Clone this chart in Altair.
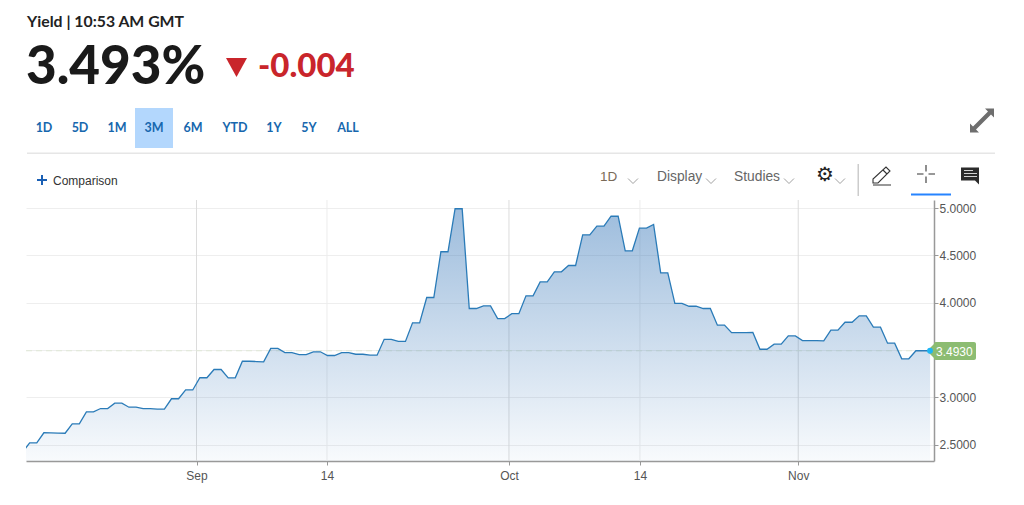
import altair as alt
import pandas as pd

# Data (one entry per chart slot, oldest first)
yields = [2.422,
 2.521,2.521, 2.627,2.625,2.624,2.622, 2.722,2.722, 2.848,2.848, 2.883,2.883, 2.939,2.939,
 2.897,2.897, 2.883,2.883, 2.876,2.876, 2.986,2.986, 3.079,3.079, 3.208,3.208, 3.295,3.295,
 3.207,3.207, 3.383,3.382,3.379,3.376, 3.517,3.517, 3.474,3.474, 3.453,3.453, 3.482,3.482,
 3.443,3.443, 3.474,3.474, 3.456,3.456, 3.446,3.446, 3.614,3.614, 3.591,3.591, 3.788,3.788,
 4.055,4.055, 4.538,4.538, 4.992,4.992, 3.939,3.939, 3.967,3.967, 3.833,3.833, 3.884,3.884,
 4.073,4.073, 4.220,4.220, 4.326,4.326, 4.393,4.393, 4.717,4.717, 4.808,4.808, 4.913,4.913,
 4.548,4.548, 4.787,4.787, 4.826, 4.316,4.316, 3.994,3.994, 3.963,3.963, 3.939,3.939,
 3.763,3.763, 3.684,3.684,3.684,3.686, 3.509,3.509, 3.562,3.562, 3.650,3.650,
 3.600,3.600,3.600,3.597, 3.710,3.710, 3.794,3.794, 3.862,3.862, 3.742,3.742, 3.573,3.573,
 3.408,3.408, 3.493,3.493,3.493]
last_value = 3.493
y_floor = 2.329
y_ceil = 5.0845
month_ticks = [24.53, 68.60, 109.40]
month_labels = ["Sep", "Oct", "Nov"]
day_ticks = [42.93, 87.07]
day_labels = ["14", "14"]
y_ticks = [2.5, 3.0, 3.5, 4.0, 4.5, 5.0]
ranges = ["1D", "5D", "1M", "3M", "6M", "YTD", "1Y", "5Y", "ALL"]
range_centers = [44, 80, 117, 154, 193, 235, 274, 309, 348]

W, H = 908, 261
X0, Y0 = 26, 200           # plot origin on the page
one = alt.Data(values=[{"k": 1}])
SANS = "Liberation Sans"
HEAD = "Lato"

df = pd.DataFrame({"slot": range(len(yields)), "yield": yields, "base": [y_floor] * len(yields)})
xs = alt.Scale(domain=[0.48, 128.55], nice=False, zero=False)
ys = alt.Scale(domain=[y_floor, y_ceil], nice=False, zero=False)

def txt(s, x, y, size=12, color="#333", weight="normal", font=SANS, align="left"):
    return alt.Chart(one).mark_text(text=s, fontSize=size, color=color, fontWeight=weight,
                                    font=font, align=align, baseline="middle").encode(
        x=alt.value(x - X0), y=alt.value(y - Y0))

def icon(path, x, y, fill=None, stroke=None, sw=1.0):
    kw = dict(shape=path, size=4, opacity=1, strokeWidth=sw)
    if fill:
        kw.update(filled=True, fill=fill, stroke=stroke or fill)
    else:
        kw.update(filled=False, stroke=stroke)
    return alt.Chart(one).mark_point(**kw).encode(x=alt.value(x - X0), y=alt.value(y - Y0))

def box(x, x2, y, y2, color, **kw):
    return alt.Chart(one).mark_rect(color=color, **kw).encode(
        x=alt.value(x - X0), x2=alt.value(x2 - X0), y=alt.value(y - Y0), y2=alt.value(y2 - Y0))

all_ticks = month_ticks + day_ticks
all_labels = month_labels + day_labels
expr = "".join(f"datum.value=={v}?'{l}':" for v, l in zip(all_ticks, all_labels)) + "''"

xaxis = alt.Axis(values=all_ticks, labelExpr=expr, grid=False, domainColor="#999",
                 tickColor="#999", tickSize=4, labelFont=SANS, labelFontSize=12,
                 labelColor="#555", labelPadding=5, labelFlush=False, domainWidth=1.5, title=None)
# The last-value tag sits where the 3.5000 label would be, so that label stays empty.
yaxis = alt.Axis(orient="right", values=y_ticks, grid=True, gridColor="#eeeeee",
                 labelExpr=f"datum.value=={y_ticks[2]}?'':format(datum.value,'.4f')",
                 domainColor="#999", tickColor="#999", tickSize=4, labelFont=SANS,
                 labelFontSize=12, labelColor="#555", labelPadding=1, domainWidth=1.5, title=None)

def X(f):
    return alt.X(f, scale=xs, axis=xaxis)

def Y(f):
    return alt.Y(f, scale=ys, axis=yaxis)

months = alt.Chart(pd.DataFrame({"t": month_ticks})).mark_rule(color="#dcdcdc", strokeWidth=1).encode(x=X("t:Q"))
days = alt.Chart(pd.DataFrame({"t": day_ticks})).mark_rule(color="#ececec", strokeWidth=1).encode(x=X("t:Q"))
dash = alt.Chart(pd.DataFrame({"v": [last_value]})).mark_rule(
    color="#dfe8d6", strokeWidth=1.2, strokeDash=[6, 4]).encode(
    x=alt.value(0), x2=alt.value(904), y=Y("v:Q"))

area = alt.Chart(df).mark_area(
    clip=True,
    color=alt.Gradient(gradient="linear", x1=0, y1=0, x2=0, y2=1,
                       stops=[alt.GradientStop(color="rgba(42,110,180,0.46)", offset=0),
                              alt.GradientStop(color="rgba(42,110,180,0.03)", offset=1)])
).encode(x=X("slot:Q"), y=Y("yield:Q"), y2=alt.Y2("base:Q"))
line = alt.Chart(df).mark_line(clip=True, color="#2a7bb8", strokeWidth=1.3, interpolate="linear").encode(
    x=X("slot:Q"), y=Y("yield:Q"))

# Last-value tag
tag = [
    box(934, 976, 342, 360, "#8cbc72", cornerRadius=2),
    icon("M-7,0 L2,-9 L2,9 Z", 934, 351, fill="#8cbc72", sw=0),
    alt.Chart(pd.DataFrame({"v": [last_value]})).mark_point(filled=True, color="#1cb5f5", size=34, opacity=1).encode(
        x=alt.value(930 - X0), y=Y("v:Q")),
    txt("3.4930", 936, 351.5, 12, "#ffffff"),
]

# Page furniture
head = [
    txt("Yield | 10:53 AM GMT", 27, 21.5, 15.8, "#222", "bold", HEAD),
    txt("3.493%", 26, 68, 53, "#1a1a1a", 900, HEAD),
    icon("M-10.5,-9 L10.5,-9 L0,10 Z", 236.5, 67, fill="#c9252b", sw=0),
    txt("-0.004", 258, 67, 33, "#c9252b", 900, HEAD),
    box(135, 173, 108, 148, "#b3d7fd"),
    box(27, 995, 152.5, 154, "#e6e6e6"),
]
head += [txt(s, c, 128, 12.5, "#1767ae", "bold", HEAD, "center") for s, c in zip(ranges, range_centers)]
chev = "M-5,-2.5 L0,2.5 L5,-2.5"
head += [
    icon("M-5,-1 L5,-1 L5,1 L-5,1 Z M-1,-5 L1,-5 L1,5 L-1,5 Z", 42, 180, fill="#1a5fb4", sw=0),
    txt("Comparison", 53, 181, 12, "#333"),
    txt("1D", 600, 177, 13.5, "#7a6a58"),
    txt("Display", 657, 177, 13.8, "#666"),
    txt("Studies", 734, 177, 13.8, "#666"),
    icon(chev, 633, 181, stroke="#888", sw=0.8),
    icon(chev, 711, 181, stroke="#888", sw=0.8),
    icon(chev, 789, 181, stroke="#888", sw=0.8),
    icon(chev, 840, 181, stroke="#888", sw=0.8),
    txt("\u2699", 825, 175, 20, "#222", font="DejaVu Sans", align="center"),
    box(857.5, 859, 164, 196, "#cccccc"),
    icon("M-9,7 L-9,3 L4,-9 L8,-5 L-4,7 Z M1,-6 L5,-2 M-9,9 L9,9", 882, 176, stroke="#333", sw=1.1),
    icon("M-9,0 L-2.5,0 M2.5,0 L9,0 M0,-9 L0,-2.5 M0,2.5 L0,9", 926, 174, stroke="#333", sw=1.1),
    box(911, 951, 193.5, 195.5, "#2684ff"),
    icon("M-9,-7 L9,-7 L9,6 L9,10 L5,6 L-9,6 Z", 970, 174.5, fill="#2b2b2b", sw=0),
    icon("M-6,-4 L3,-4 M-6,-1 L7,-1 M-6,2 L7,2", 970, 174.5, stroke="#ffffff", sw=0.8),
    icon("M-12,12 L-12,3 L-9,6 L6,-9 L3,-12 L12,-12 L12,-3 L9,-6 L-6,9 L-3,12 Z",
         982, 120.5, fill="#6e6e6e", sw=0),
]

chart = alt.layer(months, days, dash, area, line, *tag, *head).properties(
    width=W, height=H, background="#ffffff",
    padding={"left": X0 - 8, "top": Y0 - 8, "right": 82, "bottom": 28},
    autosize=alt.AutoSizeParams(type="none", contains="content"),
).configure_view(stroke=None)

chart.save("out.html", embed_options={"renderer": "svg", "actions": False})
